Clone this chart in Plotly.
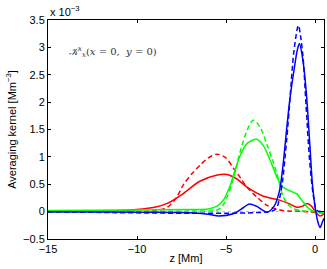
import plotly.graph_objects as go

# values in units of 1e-3 Mm^-3
blue_solid_z = [-15, -10, -7, -6, -5.4, -4.6, -4.0, -3.7, -3.3, -2.7, -2.3, -2.0, -1.8, -1.6, -1.4, -1.2, -1.0, -0.88, -0.7, -0.5, -0.3, -0.15, 0.05, 0.15, 0.28, 0.4, 0.5]
blue_solid_k = [0, -0.01, -0.02, -0.05, -0.08, -0.04, 0.08, 0.14, 0.1, -0.01, 0.1, 0.38, 0.85, 1.5, 2.1, 2.55, 2.95, 3.07, 2.8, 2.2, 1.25, 0.5, -0.02, -0.18, -0.29, -0.2, -0.12]

blue_dash_z = [-15, -2.6, -2.2, -1.9, -1.6, -1.4, -1.2, -0.94, -0.7, -0.5, -0.3, -0.1, 0.1, 0.5]
blue_dash_k = [0, 0, 0.05, 0.4, 1.3, 2.1, 2.9, 3.40, 2.9, 1.9, 0.9, 0.3, 0.02, 0]

green_solid_z = [-15, -10, -7, -6, -5.5, -5.15, -4.8, -4.5, -4.2, -3.8, -3.28, -2.9, -2.5, -2.1, -1.8, -1.5, -1.2, -1.0, -0.75, -0.4, 0, 0.5]
green_solid_k = [0.02, 0.03, 0.04, 0.05, 0.1, 0.21, 0.45, 0.75, 1.03, 1.25, 1.32, 1.2, 0.92, 0.6, 0.45, 0.39, 0.35, 0.32, 0.21, 0.07, 0.0, -0.01]

green_dash_z = [-15, -7, -5.5, -5.2, -4.9, -4.6, -4.2, -3.8, -3.47, -3.1, -2.7, -2.4, -2.15, -1.8, -1.5, -1.2, -0.8, 0, 0.5]
green_dash_k = [0, 0.01, 0.03, 0.1, 0.3, 0.6, 1.1, 1.5, 1.67, 1.55, 1.22, 0.95, 0.7, 0.28, 0.12, 0.05, 0.02, 0, 0]

red_solid_z = [-15, -12, -10, -9, -8.3, -7.4, -6.5, -5.5, -4.96, -4.4, -3.84, -2.9, -2.0, -1.5, -1.03, -0.7, -0.45, -0.2, 0.05, 0.28, 0.5]
red_solid_k = [0, 0.01, 0.04, 0.08, 0.15, 0.33, 0.55, 0.67, 0.68, 0.6, 0.45, 0.28, 0.21, 0.15, 0.08, 0.1, 0.15, 0.1, -0.02, -0.08, -0.04]

red_dash_z = [-15, -10, -9, -8.3, -7.8, -7.4, -6.9, -6.46, -6.0, -5.5, -5.0, -4.6, -4.2, -3.84, -3.28, -2.72, -2.3, -1.97, -1.5, -1.0, -0.5, 0, 0.25, 0.5]
red_dash_k = [0, 0.0, 0.02, 0.08, 0.25, 0.49, 0.7, 0.85, 0.98, 1.05, 0.98, 0.8, 0.62, 0.45, 0.27, 0.12, 0.06, 0.03, 0.01, 0.01, 0.0, -0.01, -0.02, -0.02]

zero_z = [-15, 0.5]
zero_k = [0, 0]

x_ticks = [-15, -10, -5, 0]
y_ticks = [-0.5, 0, 0.5, 1, 1.5, 2, 2.5, 3, 3.5]
y_tick_labels = ["\u22120.5", "0", "0.5", "1", "1.5", "2", "2.5", "3", "3.5"]

FONT = "Liberation Sans, Arial, Helvetica, sans-serif"
DASH = "5px,3px"

fig = go.Figure()
fig.add_trace(go.Scatter(x=zero_z, y=zero_k, mode="lines",
                         line=dict(color="#bbbbbb", width=1, dash="dot")))
series = [
    (red_dash_z, red_dash_k, "#ff0000", DASH),
    (red_solid_z, red_solid_k, "#ff0000", "solid"),
    (green_dash_z, green_dash_k, "#00ff00", DASH),
    (green_solid_z, green_solid_k, "#00ff00", "solid"),
    (blue_dash_z, blue_dash_k, "#0000ff", DASH),
    (blue_solid_z, blue_solid_k, "#0000ff", "solid"),
]
for z, k, c, d in series:
    fig.add_trace(go.Scatter(x=z, y=k, mode="lines",
                             line=dict(color=c, width=1.5, dash=d, shape="spline", smoothing=0.8)))

axis_common = dict(showgrid=False, zeroline=False, showline=True, linecolor="#000000",
                   linewidth=1, mirror="ticks", ticks="inside", ticklen=3, tickcolor="#000000",
                   tickfont=dict(family=FONT, size=11, color="#000000"))

fig.update_layout(
    width=327, height=269,
    margin=dict(l=48, r=3, t=20, b=30),
    paper_bgcolor="white", plot_bgcolor="white",
    showlegend=False,
    font=dict(family=FONT, size=11, color="#000000"),
    xaxis=dict(range=[-15, 0.5], tickvals=x_ticks,
               title=dict(text="z [Mm]", standoff=0, font=dict(family=FONT, size=11)),
               **axis_common),
    yaxis=dict(range=[-0.5, 3.5], tickvals=y_ticks, ticktext=y_tick_labels,
               title=dict(text="Averaging kernel [Mm<sup>\u22123</sup>]", standoff=4,
                          font=dict(family=FONT, size=11)),
               **axis_common),
    annotations=[
        dict(text="x 10<sup>\u22123</sup>", xref="paper", yref="paper", x=0.0, y=1.0,
             xanchor="left", yanchor="bottom", showarrow=False,
             font=dict(family=FONT, size=11, color="#000000")),
        dict(text="<i>\U0001D4A6</i><sup><i>x</i></sup><sub><i>x</i></sub>(<i>x</i> = 0,  <i>y</i> = 0)",
             xref="paper", yref="paper", x=0.237, y=0.855, xanchor="center", yanchor="middle",
             showarrow=False, font=dict(family="DejaVu Serif, serif", size=10, color="#333333")),
    ],
)

fig.write_html("out.html", config={"displayModeBar": False},
               post_script="document.body.style.margin='0';document.body.style.overflow='hidden';")
